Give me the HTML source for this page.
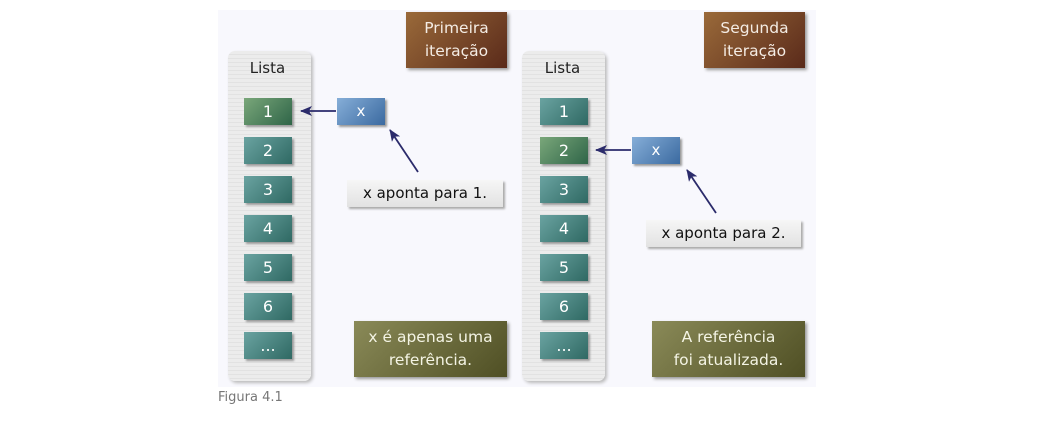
<!DOCTYPE html>
<html><head><meta charset="utf-8"><style>
body{margin:0;width:1055px;height:432px;background:#fff;position:relative;overflow:hidden;font-family:"DejaVu Sans","Liberation Sans",sans-serif}
.a{position:absolute;box-sizing:border-box}
.bg{left:218px;top:10px;width:598px;height:377px;background:#f8f8fd}
.col{width:83px;height:330px;border-radius:7px;background:repeating-linear-gradient(#ececec 0 3px,#e2e2e2 3px 4px);box-shadow:2px 2px 3px #bbb;}
.lt{font-size:15px;color:#222;text-align:center;width:83px}
.it{width:48px;height:27px;color:#fff;font-size:16px;text-align:center;line-height:27px;background:linear-gradient(135deg,#6aa3a1,#2f6963);box-shadow:2px 2px 2px #999}
.g{background:linear-gradient(135deg,#7aa77a,#2f6548)}
.x{width:48px;height:27px;color:#fff;font-size:15px;text-align:center;line-height:27px;background:linear-gradient(135deg,#86aed8,#3b6aa0);box-shadow:2px 2px 2px #999}
.lb{height:27px;background:linear-gradient(#f6f6f6,#e2e2e2);box-shadow:2px 2px 2px #aaa;font-size:15px;color:#111;text-align:center;line-height:27px}
.br{width:101px;height:56px;background:linear-gradient(135deg,#9a6a3a,#5a2a1a);color:#f4ece4;font-size:15.5px;text-align:center;line-height:23px;padding-top:5px;box-shadow:2px 2px 3px #999}
.ol{width:153px;height:56px;background:linear-gradient(135deg,#8a8a58,#4f4f24);color:#f4f4e4;font-size:15.5px;text-align:center;line-height:23px;padding-top:5px;box-shadow:2px 2px 3px #999}
</style></head><body>
<div class="a bg"></div>
<div class="a col" style="left:228px;top:51px"></div>
<div class="a col" style="left:522px;top:51px"></div>
<div class="a lt" style="left:226px;top:59px">Lista</div>
<div class="a lt" style="left:521px;top:59px">Lista</div>

<div class="a it g" style="left:244px;top:98px">1</div>
<div class="a it" style="left:244px;top:137px">2</div>
<div class="a it" style="left:244px;top:176px">3</div>
<div class="a it" style="left:244px;top:215px">4</div>
<div class="a it" style="left:244px;top:254px">5</div>
<div class="a it" style="left:244px;top:293px">6</div>
<div class="a it" style="left:244px;top:332px">...</div>

<div class="a it" style="left:540px;top:98px">1</div>
<div class="a it g" style="left:540px;top:137px">2</div>
<div class="a it" style="left:540px;top:176px">3</div>
<div class="a it" style="left:540px;top:215px">4</div>
<div class="a it" style="left:540px;top:254px">5</div>
<div class="a it" style="left:540px;top:293px">6</div>
<div class="a it" style="left:540px;top:332px">...</div>

<div class="a x" style="left:337px;top:98px">x</div>
<div class="a x" style="left:632px;top:137px">x</div>
<div class="a lb" style="left:347px;top:180px;width:156px">x aponta para 1.</div>
<div class="a lb" style="left:646px;top:220px;width:155px">x aponta para 2.</div>

<div class="a br" style="left:406px;top:12px">Primeira<br>iteração</div>
<div class="a br" style="left:704px;top:12px">Segunda<br>iteração</div>
<div class="a ol" style="left:354px;top:321px">x é apenas uma<br>referência.</div>
<div class="a ol" style="left:652px;top:321px">A referência<br>foi atualizada.</div>

<svg class="a" style="left:0;top:0" width="1055" height="432">
<defs><marker id="m" markerWidth="12" markerHeight="10" refX="11" refY="5" orient="auto" markerUnits="userSpaceOnUse"><path d="M0,0 L12,5 L0,10 L3,5z" fill="#2b2b6b"/></marker></defs>
<g stroke="#2b2b6b" stroke-width="1.8" marker-end="url(#m)">
<line x1="336" y1="111" x2="301" y2="111"/>
<line x1="418" y1="172" x2="390" y2="130"/>
<line x1="631" y1="150" x2="596" y2="150"/>
<line x1="716" y1="213" x2="687" y2="170"/>
</g></svg>
<div class="a" style="left:218px;top:390px;font-size:13px;color:#777">Figura 4.1</div>
</body></html>
